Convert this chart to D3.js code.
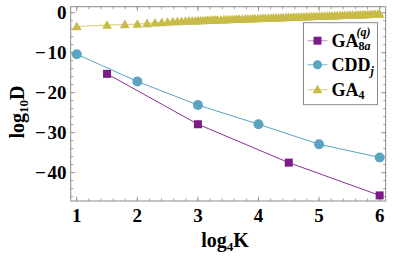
<!DOCTYPE html>
<meta charset="utf-8">
<style>
body { margin: 0; background: #fff; }
</style>
<body>
<script src="https://d3js.org/d3.v7.min.js"></script>
<svg width="415" height="259"></svg>
<script>

// data (x = log4 K, y = log10 D)
var gaqX = [1.5, 3, 4.5, 6];
var gaqY = [-15.3, -27.9, -37.5, -45.7];

var cddX = [1, 2, 3, 4, 5, 6];
var cddY = [-10.4, -17.2, -23.1, -27.9, -32.9, -36.2];

var ga4K = [4, 8, 12, 16, 20, 24, 28, 32, 36, 40, 44, 48, 52, 56, 60, 64,
  68, 72, 76, 80, 84, 88, 92, 96, 100, 108, 116, 124, 132, 140, 148, 156, 164,
  176, 188, 200, 212, 224, 236, 252, 268, 284, 300, 320, 340, 360, 380, 404,
  428, 452, 480, 508, 540, 572, 608, 644, 684, 724, 768, 816, 864, 916, 972,
  1032, 1092, 1160, 1228, 1300, 1380, 1464, 1552, 1644, 1744, 1848, 1960, 2076,
  2200, 2332, 2472, 2620, 2780, 2944, 3120, 3308, 3508, 3716, 3940, 4096];
var ga4Y = [-3.45, -3.1, -2.95, -2.85, -2.7, -2.55, -2.45, -2.35, -2.25, -2.2, -2.15, -2.1, -2.07, -2.04, -2.02, -2.0,
  -1.98, -1.96, -1.93, -1.91, -1.89, -1.87, -1.86, -1.84, -1.82, -1.79, -1.76, -1.74, -1.71, -1.69, -1.67, -1.65, -1.63,
  -1.6, -1.57, -1.55, -1.53, -1.5, -1.48, -1.46, -1.43, -1.41, -1.39, -1.36, -1.34, -1.31, -1.29, -1.27,
  -1.25, -1.23, -1.2, -1.18, -1.15, -1.13, -1.11, -1.08, -1.06, -1.04, -1.01, -0.99, -0.97, -0.94, -0.92,
  -0.9, -0.87, -0.85, -0.83, -0.81, -0.78, -0.76, -0.74, -0.72, -0.69, -0.67, -0.65, -0.63,
  -0.6, -0.58, -0.56, -0.53, -0.51, -0.49, -0.47, -0.44, -0.42, -0.4, -0.38, -0.36];

var xTicks = [1, 2, 3, 4, 5, 6];
var yTicks = [0, -10, -20, -30, -40];

var svg = d3.select("svg");
var font = "Liberation Serif";

var x = d3.scaleLinear().domain([0.9, 6.1]).range([70.7, 385.7]);
var y = d3.scaleLinear().domain([-47.1, 1.5]).range([201, 6.7]);

var frame = "#8a8a8a";

// frame
svg.append("rect")
    .attr("x", x.range()[0]).attr("y", y.range()[1])
    .attr("width", x.range()[1] - x.range()[0])
    .attr("height", y.range()[0] - y.range()[1])
    .attr("fill", "none").attr("stroke", frame).attr("stroke-width", 1);

// ticks on all four sides, pointing in
var xMinor = d3.range(1, 6.01, 0.2).filter(function(v) { return v > 0.9 && v < 6.1; });
var yMinor = d3.range(-46, 1.5, 2);

function tickLines(vals, len, orient) {
  svg.append("g").selectAll("line").data(vals).enter().append("line")
      .attr("stroke", frame).attr("stroke-width", 0.8)
      .each(function(d) {
        var s = d3.select(this);
        if (orient == "bottom") s.attr("x1", x(d)).attr("x2", x(d)).attr("y1", y.range()[0]).attr("y2", y.range()[0] - len);
        if (orient == "top") s.attr("x1", x(d)).attr("x2", x(d)).attr("y1", y.range()[1]).attr("y2", y.range()[1] + len);
        if (orient == "left") s.attr("y1", y(d)).attr("y2", y(d)).attr("x1", x.range()[0]).attr("x2", x.range()[0] + len);
        if (orient == "right") s.attr("y1", y(d)).attr("y2", y(d)).attr("x1", x.range()[1]).attr("x2", x.range()[1] - len);
      });
}
tickLines(xMinor, 2.5, "bottom"); tickLines(xMinor, 2.5, "top");
tickLines(xTicks, 4.5, "bottom"); tickLines(xTicks, 4.5, "top");
tickLines(yMinor, 2.5, "left"); tickLines(yMinor, 2.5, "right");
tickLines(yTicks, 4.5, "left"); tickLines(yTicks, 4.5, "right");

// tick labels
svg.append("g").selectAll("text").data(xTicks).enter().append("text")
    .attr("x", function(d) { return x(d); })
    .attr("y", 222)
    .attr("text-anchor", "middle")
    .attr("font-family", font).attr("font-weight", "bold")
    .attr("font-size", 19)
    .text(function(d) { return d; });

svg.append("g").selectAll("text").data(yTicks).enter().append("text")
    .attr("x", 66.5)
    .attr("y", function(d) { return y(d) + 6.5; })
    .attr("text-anchor", "end")
    .attr("font-family", font).attr("font-weight", "bold")
    .attr("font-size", 19)
    .text(function(d) { return d < 0 ? "\u2212\u200a" + (-d) : d; });

// axis titles
var xt = svg.append("text").attr("x", 225).attr("y", 247)
    .attr("text-anchor", "middle").attr("font-size", 20)
    .attr("font-family", font).attr("font-weight", "bold");
xt.append("tspan").text("log");
xt.append("tspan").attr("font-size", 13).attr("dy", 4).text("4");
xt.append("tspan").attr("dy", -4).text("K");

var yt = svg.append("text").attr("transform", "translate(24,112) rotate(-90)")
    .attr("text-anchor", "middle").attr("font-size", 20)
    .attr("font-family", font).attr("font-weight", "bold");
yt.append("tspan").text("log");
yt.append("tspan").attr("font-size", 13).attr("dy", 4).text("10");
yt.append("tspan").attr("dy", -4).text("D");

// series
var line = d3.line().x(function(d) { return x(d[0]); }).y(function(d) { return y(d[1]); });
var plot = svg.append("g");

var ga4 = d3.zip(ga4K.map(function(k) { return Math.log(k) / Math.log(4); }), ga4Y);
var cdd = d3.zip(cddX, cddY);
var gaq = d3.zip(gaqX, gaqY);

var triangle = d3.symbol().type(d3.symbolTriangle).size(42);

plot.append("path").datum(ga4).attr("d", line)
    .attr("fill", "none").attr("stroke", "#d8cf78").attr("stroke-width", 1.2);
plot.append("g").selectAll("path").data(ga4).enter().append("path")
    .attr("transform", function(d) { return "translate(" + x(d[0]) + "," + (y(d[1]) + 0.8) + ")"; })
    .attr("d", triangle)
    .attr("fill", "#c8bc48");

plot.append("path").datum(cdd).attr("d", line)
    .attr("fill", "none").attr("stroke", "#5aa3c1").attr("stroke-width", 1);
plot.append("g").selectAll("circle").data(cdd).enter().append("circle")
    .attr("cx", function(d) { return x(d[0]); })
    .attr("cy", function(d) { return y(d[1]); })
    .attr("r", 5)
    .attr("fill", "#5aa3c1");

plot.append("path").datum(gaq).attr("d", line)
    .attr("fill", "none").attr("stroke", "#8a2e96").attr("stroke-width", 1);
plot.append("g").selectAll("rect").data(gaq).enter().append("rect")
    .attr("x", function(d) { return x(d[0]) - 4; })
    .attr("y", function(d) { return y(d[1]) - 4; })
    .attr("width", 8).attr("height", 8)
    .attr("fill", "#7b1c86");

// legend
var leg = svg.append("g").attr("transform", "translate(303.5,22.7)");
leg.append("rect").attr("width", 74).attr("height", 82)
    .attr("fill", "#fff").attr("stroke", frame).attr("stroke-width", 1);

var legRows = [
  { ty: 18, col: "#7b1c86", lc: "#c9a3d0", mark: "square" },
  { ty: 42, col: "#5aa3c1", lc: "#8cc2d6", mark: "circle" },
  { ty: 67, col: "#c8bc48", lc: "#ddd58e", mark: "triangle" }
];
legRows.forEach(function(r) {
  var g = leg.append("g").attr("transform", "translate(0," + r.ty + ")");
  g.append("line").attr("x1", 4).attr("x2", 24).attr("stroke", r.lc).attr("stroke-width", 1.2);
  if (r.mark == "square") g.append("rect").attr("x", 10).attr("y", -4).attr("width", 8).attr("height", 8).attr("fill", r.col);
  if (r.mark == "circle") g.append("circle").attr("cx", 14).attr("r", 4.5).attr("fill", r.col);
  if (r.mark == "triangle") g.append("path").attr("transform", "translate(14,0.8)").attr("d", triangle).attr("fill", r.col);
});

function legText(yy) {
  return leg.append("text").attr("x", 28).attr("y", yy).attr("font-size", 18)
      .attr("font-family", font).attr("font-weight", "bold");
}
var t1 = legText(24);
t1.append("tspan").text("GA");
t1.append("tspan").attr("font-size", 12).attr("dy", 3).text("8");
t1.append("tspan").attr("font-size", 12).attr("font-style", "italic").text("a");
t1.append("tspan").attr("font-size", 12).attr("font-style", "italic").attr("dx", -14).attr("dy", -14).text("(q)");

var t2 = legText(48);
t2.append("tspan").text("CDD");
t2.append("tspan").attr("font-size", 12).attr("font-style", "italic").attr("dy", 4).text("j");

var t3 = legText(73);
t3.append("tspan").text("GA");
t3.append("tspan").attr("font-size", 12).attr("dy", 3).text("4");

</script>
</body>
